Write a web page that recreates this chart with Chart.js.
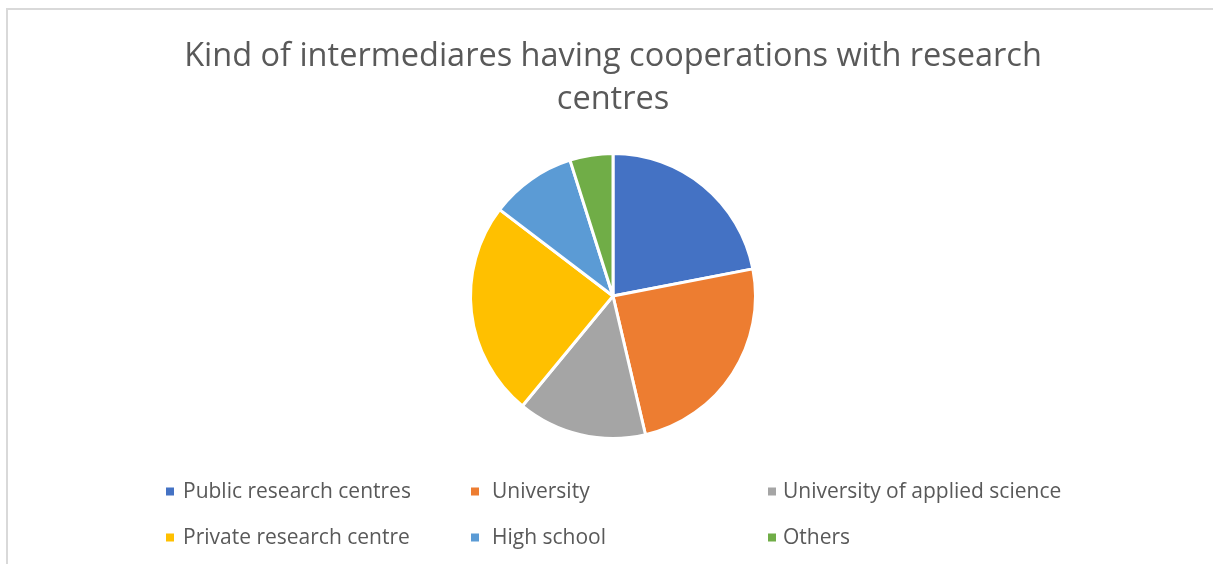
<!DOCTYPE html>
<html>
<head>
<meta charset="utf-8">
<script src="https://cdn.jsdelivr.net/npm/chart.js@4"></script>
<style>
  html, body { margin: 0; padding: 0; background: #fff; }
  #wrap { width: 1213px; height: 564px; position: relative; }
</style>
</head>
<body>
<div id="wrap"><canvas id="c" width="1213" height="564"></canvas></div>
<script>
// Kinds of intermediaries and how many cooperate with research centres
const categories = [
  'Public research centres',
  'University',
  'University of applied science',
  'Private research centre',
  'High school',
  'Others'
];
const counts = [9, 10, 6, 10, 4, 2];
const sliceColors = ['#4472C4', '#ED7D31', '#A5A5A5', '#FFC000', '#5B9BD5', '#70AD47'];
const titleLines = ['Kind of intermediares having cooperations with research', 'centres'];

const FONT = '"Open Sans", Lato, sans-serif';

// Light frame around the chart area
const framePlugin = {
  id: 'frame',
  beforeDraw(chart) {
    const ctx = chart.ctx;
    ctx.save();
    ctx.fillStyle = '#ffffff';
    ctx.fillRect(0, 0, chart.width, chart.height);
    ctx.strokeStyle = '#d9d9d9';
    ctx.lineWidth = 2;
    ctx.beginPath();
    ctx.moveTo(7, chart.height + 2);
    ctx.lineTo(7, 9);
    ctx.lineTo(chart.width + 2, 9);
    ctx.stroke();
    ctx.restore();
  }
};

// Three-column legend under the pie
const gridLegendPlugin = {
  id: 'gridLegend',
  afterDraw(chart) {
    const ctx = chart.ctx;
    const labels = chart.data.labels;
    const colors = chart.data.datasets[0].backgroundColor;
    const colX = [166, 471, 768];
    const textGap = [17, 21, 15];
    const rowY = [491.5, 537.5];
    ctx.save();
    ctx.font = '21px ' + FONT;
    ctx.textBaseline = 'middle';
    labels.forEach((lab, i) => {
      const col = i % 3, row = Math.floor(i / 3);
      const x = colX[col], y = rowY[row];
      ctx.fillStyle = colors[i];
      ctx.fillRect(x, y - 4, 8, 8);
      ctx.fillStyle = '#595959';
      ctx.fillText(lab, x + textGap[col], y + 1);
    });
    ctx.restore();
  }
};

new Chart(document.getElementById('c'), {
  type: 'pie',
  data: {
    labels: categories,
    datasets: [{
      data: counts,
      backgroundColor: sliceColors,
      borderColor: '#ffffff',
      borderWidth: 3
    }]
  },
  options: {
    responsive: false,
    animation: false,
    layout: { padding: { left: 13, right: 0, top: 0, bottom: 124 } },
    plugins: {
      legend: { display: false },
      tooltip: { enabled: false },
      title: {
        display: true,
        text: titleLines,
        color: '#595959',
        font: { family: FONT, size: 32.5, weight: 'normal', lineHeight: '43px' },
        padding: { top: 35, bottom: 31 }
      }
    }
  },
  plugins: [framePlugin, gridLegendPlugin]
});
</script>
</body>
</html>
